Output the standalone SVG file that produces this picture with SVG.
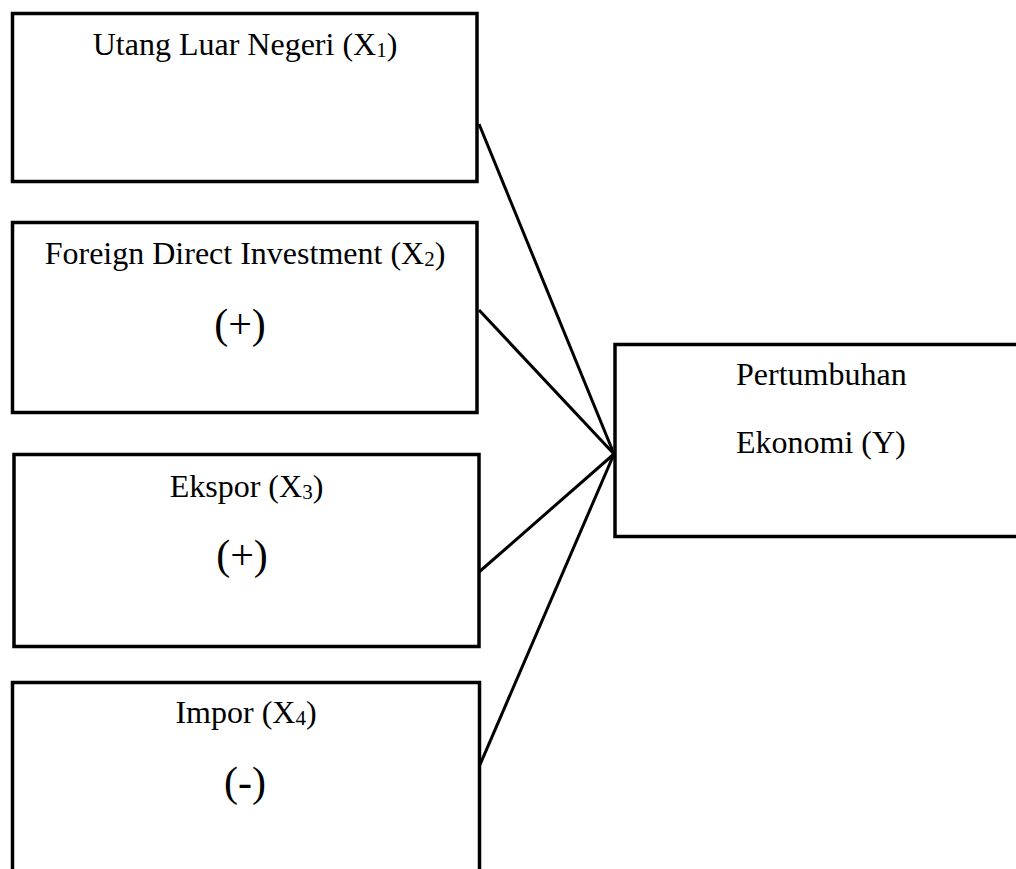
<svg xmlns="http://www.w3.org/2000/svg" width="1016" height="869" viewBox="0 0 1016 869">
<style>
.box{fill:#fff;stroke:#000;stroke-width:3.5}
.t{font-family:"Liberation Serif","Times New Roman",serif;font-size:32px;fill:#000;text-anchor:middle}
.s{font-family:"Liberation Serif","Times New Roman",serif;font-size:42px;fill:#000;text-anchor:middle}
.sub{font-size:21px}
.ty{font-family:"Liberation Serif","Times New Roman",serif;font-size:32px;fill:#000}
.c{stroke:#000;stroke-width:3;fill:none}
</style>
<rect width="1016" height="869" fill="#fff"/>
<g id="connectors">
<line class="c" x1="479" y1="124" x2="614" y2="454"/>
<line class="c" x1="479" y1="310" x2="614" y2="454"/>
<line class="c" x1="479" y1="572" x2="614" y2="454"/>
<line class="c" x1="479" y1="767" x2="614" y2="454"/>
</g>
<g id="x1">
<rect class="box" x="12.5" y="13.5" width="464.5" height="168"/>
<text class="t" x="245" y="55">Utang Luar Negeri (X<tspan class="sub" dy="2">1</tspan><tspan dy="-2">)</tspan></text>
</g>
<g id="x2">
<rect class="box" x="12.5" y="222.5" width="464.5" height="190"/>
<text class="t" x="245" y="264">Foreign Direct Investment (X<tspan class="sub" dy="2">2</tspan><tspan dy="-2">)</tspan></text>
<text class="s" x="240" y="338">(+)</text>
</g>
<g id="x3">
<rect class="box" x="14" y="454.5" width="465" height="192"/>
<text class="t" x="246.5" y="497">Ekspor (X<tspan class="sub" dy="2">3</tspan><tspan dy="-2">)</tspan></text>
<text class="s" x="242" y="569">(+)</text>
</g>
<g id="x4">
<rect class="box" x="12.5" y="682.5" width="467" height="230"/>
<text class="t" x="246" y="723">Impor (X<tspan class="sub" dy="2">4</tspan><tspan dy="-2">)</tspan></text>
<text class="s" x="245" y="796">(-)</text>
</g>
<g id="y">
<rect class="box" x="615" y="344.5" width="420" height="192"/>
<text class="ty" x="736" y="385">Pertumbuhan</text>
<text class="ty" x="736" y="453">Ekonomi (Y)</text>
</g>
</svg>
